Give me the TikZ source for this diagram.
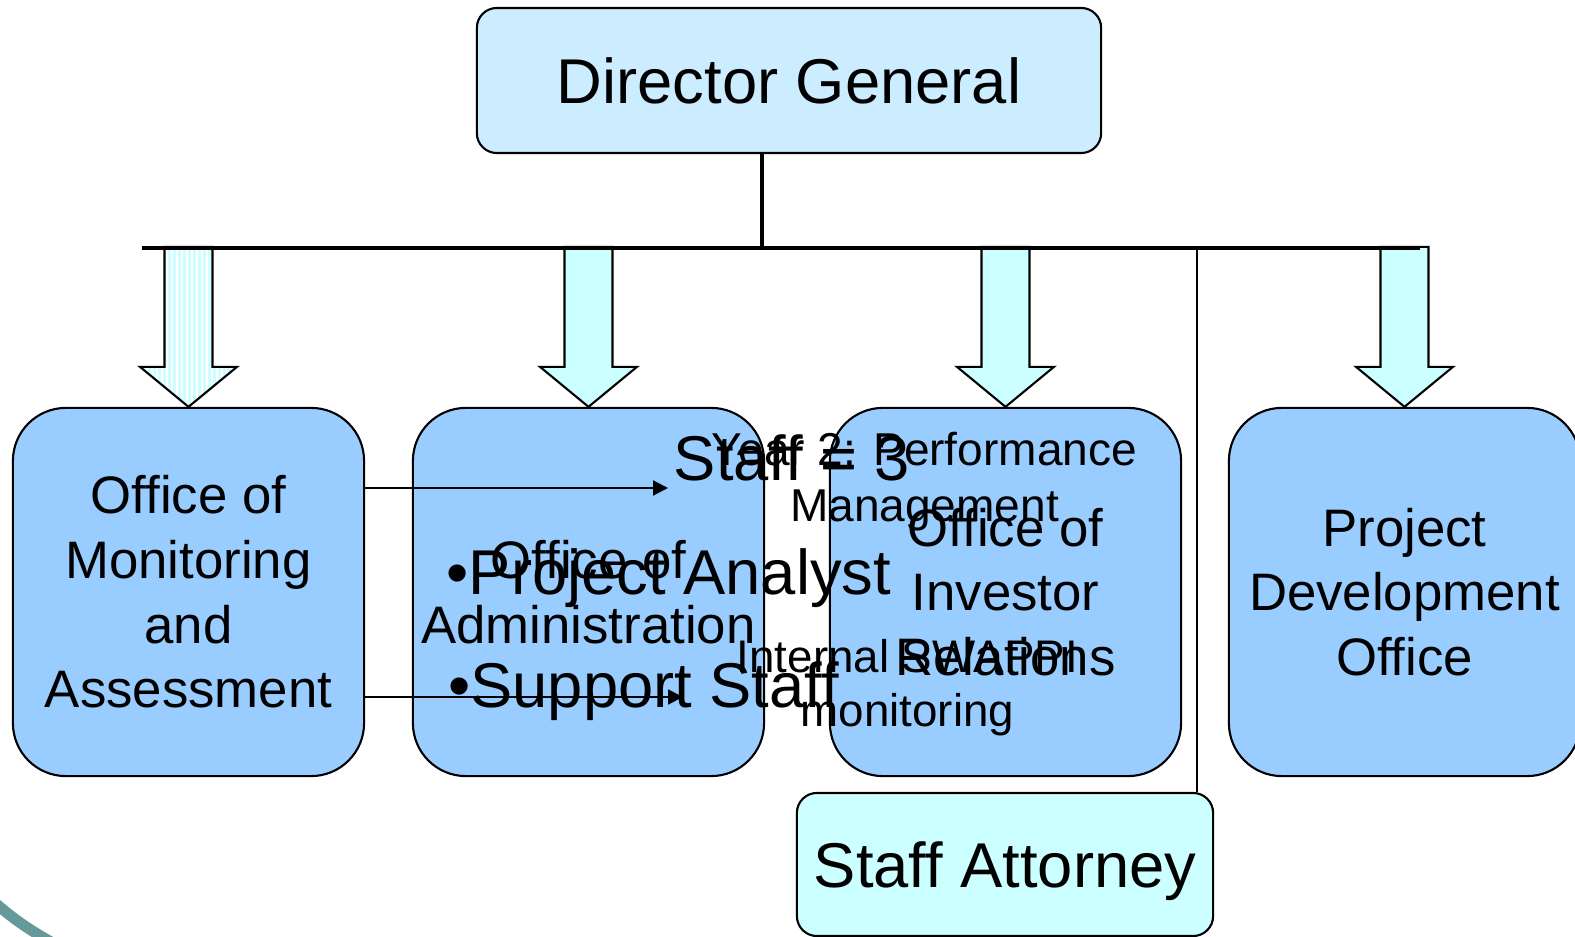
\documentclass[tikz,border=0pt]{standalone}
\usepackage{fontspec}
\setmainfont{Liberation Sans}
\usetikzlibrary{positioning}
\usetikzlibrary{arrows.meta, calc}

\definecolor{dgblue}{HTML}{CCECFF}
\definecolor{officeblue}{HTML}{99CCFF}
\definecolor{paleaqua}{HTML}{CCFFFF}
\definecolor{slideteal}{HTML}{669999}

% outline of a block arrow hanging above a box
\newcommand{\dropshape}[1]{(#1.north) -- ++(-48.5,-40) -- ++(24.5,0) -- ++(0,-120) -- ++(48,0) -- ++(0,120) -- ++(24.5,0) -- cycle}

\begin{document}
\begin{tikzpicture}[x=0.01cm,y=-0.01cm]

\tikzset{office/.style={
		draw, line width=0.6pt,
		fill=officeblue,
		rounded corners=0.53cm,
		minimum width=3.51cm,
		minimum height=3.68cm,
		align=center,
		inner sep=0pt,
		font=\fontsize{15}{18.4}\selectfont
	},
	topbox/.style={draw, line width=0.6pt, rounded corners=0.2cm, inner sep=0pt,
		text depth=0pt, font=\fontsize{18}{21}\selectfont},
	blockarrow/.style={draw, line width=0.6pt, fill=paleaqua, line join=miter},
	stripe/.style={draw=paleaqua, line width=0.6pt},
	slidetext/.style={anchor=base, align=center, inner sep=0pt},
	thinarrow/.style={line width=0.6pt, -{Triangle[length=4.2pt,width=4.2pt]}}
}
\useasboundingbox (0,0) rectangle (1575,937);

% boxes
\node[topbox, fill=dgblue, minimum width=6.24cm, minimum height=1.45cm] (dg) at (789,80.5) {Director General};
\node[office] (moa) at (188.5,592) {Office of\\Monitoring\\and\\Assessment};
\node[office] (adm) at (588.5,592) {Office of\\Administration};
\node[office] (inv) at (1005.5,592) {Office of\\Investor\\Relations};
\node[office] (pdo) at (1404.5,592) {Project\\Development\\Office};
\node[topbox, fill=paleaqua, minimum width=4.16cm, minimum height=1.43cm] (att) at (1005,864.5) {Staff Attorney};

% block arrows, the first one striped
\fill[white] \dropshape{moa};
\begin{scope}
	\clip \dropshape{moa};
	\foreach \i in {0,5,...,100}
		\draw[stripe] ($(moa.north)+(-49+\i,-165)$) -- ++(0,170);
\end{scope}
\draw[blockarrow, fill=none] \dropshape{moa};
\foreach \b in {adm,inv,pdo}
	\draw[blockarrow] \dropshape{\b};

% bar and drops
\coordinate (barL) at (142,248);
\coordinate (barR) at (1420,248);
\coordinate (drop) at (762,248);
\coordinate (tap) at (1197,248);
\draw[line width=1.4pt] (barL) -- (barR);
\draw[line width=1.4pt] (drop |- dg.south) -- (drop);
\draw[line width=0.6pt] (tap) -- (tap |- att.north);

% thin arrows
\coordinate (tipA) at (668,488);
\coordinate (tipB) at (683,697);
\draw[thinarrow] (moa.east |- tipA) -- (tipA);
\draw[thinarrow] (moa.east |- tipB) -- (tipB);

% loose texts
\node[slidetext, font=\fontsize{18}{21}\selectfont] (staff) at (792,481) {Staff = 3};
\node[slidetext, font=\fontsize{18}{21}\selectfont] (analyst) at (669,595) {•Project Analyst};
\node[slidetext, font=\fontsize{18}{21}\selectfont] (support) at (643.5,708) {•Support Staff};
\node[slidetext, font=\fontsize{13.1}{16.2}\selectfont] (year) at (924.5,522) {Year 2: Performance\\Management};
\node[slidetext, font=\fontsize{13}{15.6}\selectfont] (swappi) at (907.5,727) {Internal SWAPPI\\monitoring};

% corner swoosh
\draw[slideteal, line width=3.1pt] (-10,898.5) .. controls (10,916) and (25,928) .. (60,947);

\end{tikzpicture}
\end{document}
